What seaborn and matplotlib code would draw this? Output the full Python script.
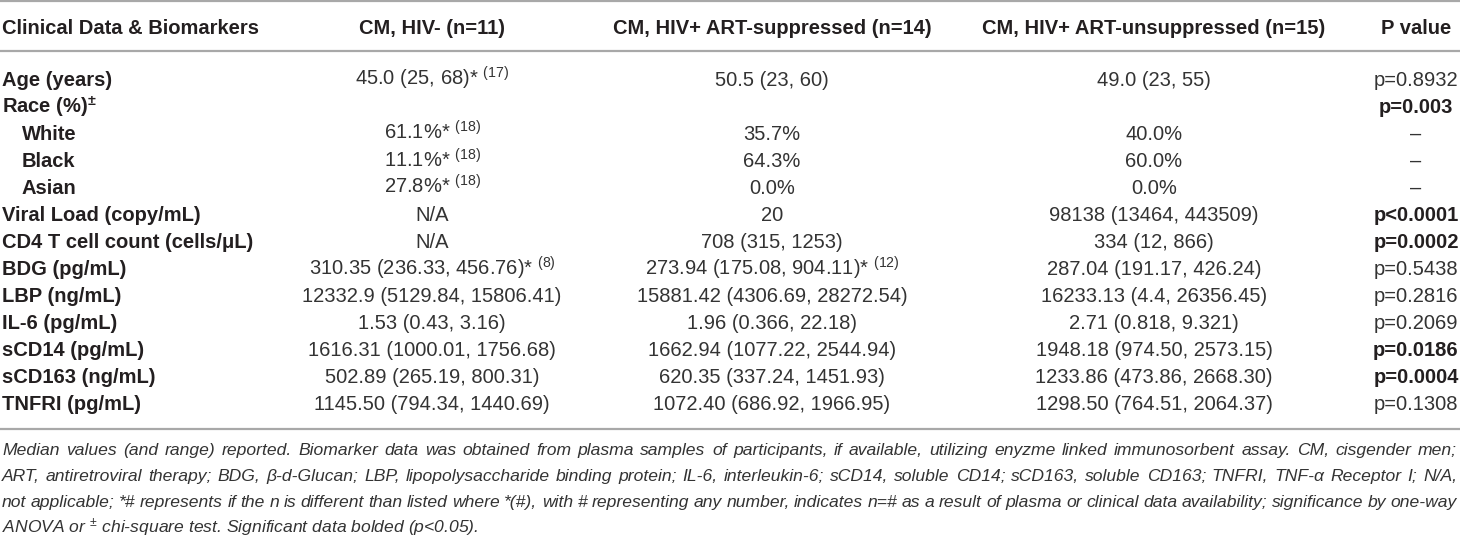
import matplotlib
matplotlib.use("Agg")
import seaborn as sns
import matplotlib.pyplot as plt

# =========================
# Table content
# =========================
headers = ["Clinical Data & Biomarkers", "CM, HIV- (n=11)",
           "CM, HIV+ ART-suppressed (n=14)", "CM, HIV+ ART-unsuppressed (n=15)",
           "P value"]

row_labels = ["Age (years)", "Race (%)$^{\\pm}$", "White", "Black", "Asian",
              "Viral Load (copy/mL)", "CD4 T cell count (cells/μL)", "BDG (pg/mL)",
              "LBP (ng/mL)", "IL-6 (pg/mL)", "sCD14 (pg/mL)", "sCD163 (ng/mL)",
              "TNFRI (pg/mL)"]
indented = [False, False, True, True, True, False, False, False,
            False, False, False, False, False]

hiv_neg = ["45.0 (25, 68)", "", "61.1%", "11.1%", "27.8%", "N/A", "N/A",
           "310.35 (236.33, 456.76)", "12332.9 (5129.84, 15806.41)",
           "1.53 (0.43, 3.16)", "1616.31 (1000.01, 1756.68)",
           "502.89 (265.19, 800.31)", "1145.50 (794.34, 1440.69)"]
hiv_neg_n = ["17", "", "18", "18", "18", "", "", "8", "", "", "", "", ""]

suppressed = ["50.5 (23, 60)", "", "35.7%", "64.3%", "0.0%", "20",
              "708 (315, 1253)", "273.94 (175.08, 904.11)",
              "15881.42 (4306.69, 28272.54)", "1.96 (0.366, 22.18)",
              "1662.94 (1077.22, 2544.94)", "620.35 (337.24, 1451.93)",
              "1072.40 (686.92, 1966.95)"]
suppressed_n = ["", "", "", "", "", "", "", "12", "", "", "", "", ""]

unsuppressed = ["49.0 (23, 55)", "", "40.0%", "60.0%", "0.0%",
                "98138 (13464, 443509)", "334 (12, 866)",
                "287.04 (191.17, 426.24)", "16233.13 (4.4, 26356.45)",
                "2.71 (0.818, 9.321)", "1948.18 (974.50, 2573.15)",
                "1233.86 (473.86, 2668.30)", "1298.50 (764.51, 2064.37)"]
unsuppressed_n = [""] * 13

p_values = ["p=0.8932", "p=0.003", "–", "–", "–", "p<0.0001", "p=0.0002",
            "p=0.5438", "p=0.2816", "p=0.2069", "p=0.0186", "p=0.0004",
            "p=0.1308"]
p_bold = [False, True, False, False, False, True, True, False, False,
          False, True, True, False]

footnote_lines = [
    "Median values (and range) reported. Biomarker data was obtained from plasma samples of participants, if available, utilizing enyzme linked immunosorbent assay. CM, cisgender men;",
    "ART, antiretroviral therapy; BDG, β-d-Glucan; LBP, lipopolysaccharide binding protein; IL-6, interleukin-6; sCD14, soluble CD14; sCD163, soluble CD163; TNFRI, TNF-α Receptor I; N/A,",
    "not applicable; *# represents if the n is different than listed where *(#), with # representing any number, indicates n=# as a result of plasma or clinical data availability; significance by one-way",
    "ANOVA or $^{\\pm}$ chi-square test. Significant data bolded (p<0.05).",
]

# =========================
# Style
# =========================
sns.set_theme(style="white")
plt.rcParams["font.family"] = ["Liberation Sans", "DejaVu Sans"]
plt.rcParams["mathtext.default"] = "regular"

TXT = "#231f20"
DATA = "#333333"
RULE = "#a8a8a8"
FS = 14.5
FS_NOTE = 12.6

col_x = [2, 432, 772, 1154, 1416]
header_y = 34
row_y0 = 86
row_step = 27.0

fig = plt.figure(figsize=(14.6, 5.38), dpi=100)
ax = fig.add_axes([0, 0, 1, 1])
ax.set_xlim(0, 1460)
ax.set_ylim(538, 0)
ax.axis("off")

# rules
for y in [1, 51, 429]:
    ax.axhline(y, color=RULE, lw=1.6)

# header row
ax.text(col_x[0], header_y, headers[0], fontsize=FS, fontweight="bold",
        color=TXT, ha="left", va="baseline")
for x, h in zip(col_x[1:], headers[1:]):
    ax.text(x, header_y, h, fontsize=FS, fontweight="bold", color=TXT,
            ha="center", va="baseline")


def cell(value, n):
    if value and n:
        return value + "* $^{(" + n + ")}$"
    return value


for i, label in enumerate(row_labels):
    y = row_y0 + i * row_step
    ax.text(col_x[0] + (20 if indented[i] else 0), y, label, fontsize=FS,
            fontweight="bold", color=TXT, ha="left", va="baseline")
    for x, vals, ns in [(col_x[1], hiv_neg, hiv_neg_n),
                        (col_x[2], suppressed, suppressed_n),
                        (col_x[3], unsuppressed, unsuppressed_n)]:
        ax.text(x, y, cell(vals[i], ns[i]), fontsize=FS, color=DATA,
                ha="center", va="baseline")
    ax.text(col_x[4], y, p_values[i], fontsize=FS,
            fontweight="bold" if p_bold[i] else "normal",
            color=TXT if p_bold[i] else DATA, ha="center", va="baseline")

# footnote, justified like the journal layout
renderer = fig.canvas.get_renderer()
note_y = [455, 481, 507, 533]
x_left, x_right = 2, 1457
for k, line in enumerate(footnote_lines):
    if k == len(footnote_lines) - 1:
        ax.text(x_left, note_y[k], line, fontsize=FS_NOTE, style="italic",
                color=DATA, ha="left", va="baseline")
        continue
    words = line.split(" ")
    texts = [ax.text(0, note_y[k], w, fontsize=FS_NOTE, style="italic",
                     color=DATA, ha="left", va="baseline") for w in words]
    widths = [t.get_window_extent(renderer).width for t in texts]
    gap = (x_right - x_left - sum(widths)) / (len(words) - 1)
    x = x_left
    for t, w in zip(texts, widths):
        t.set_x(x)
        x += w + gap

fig.savefig("out.png", dpi=100)
